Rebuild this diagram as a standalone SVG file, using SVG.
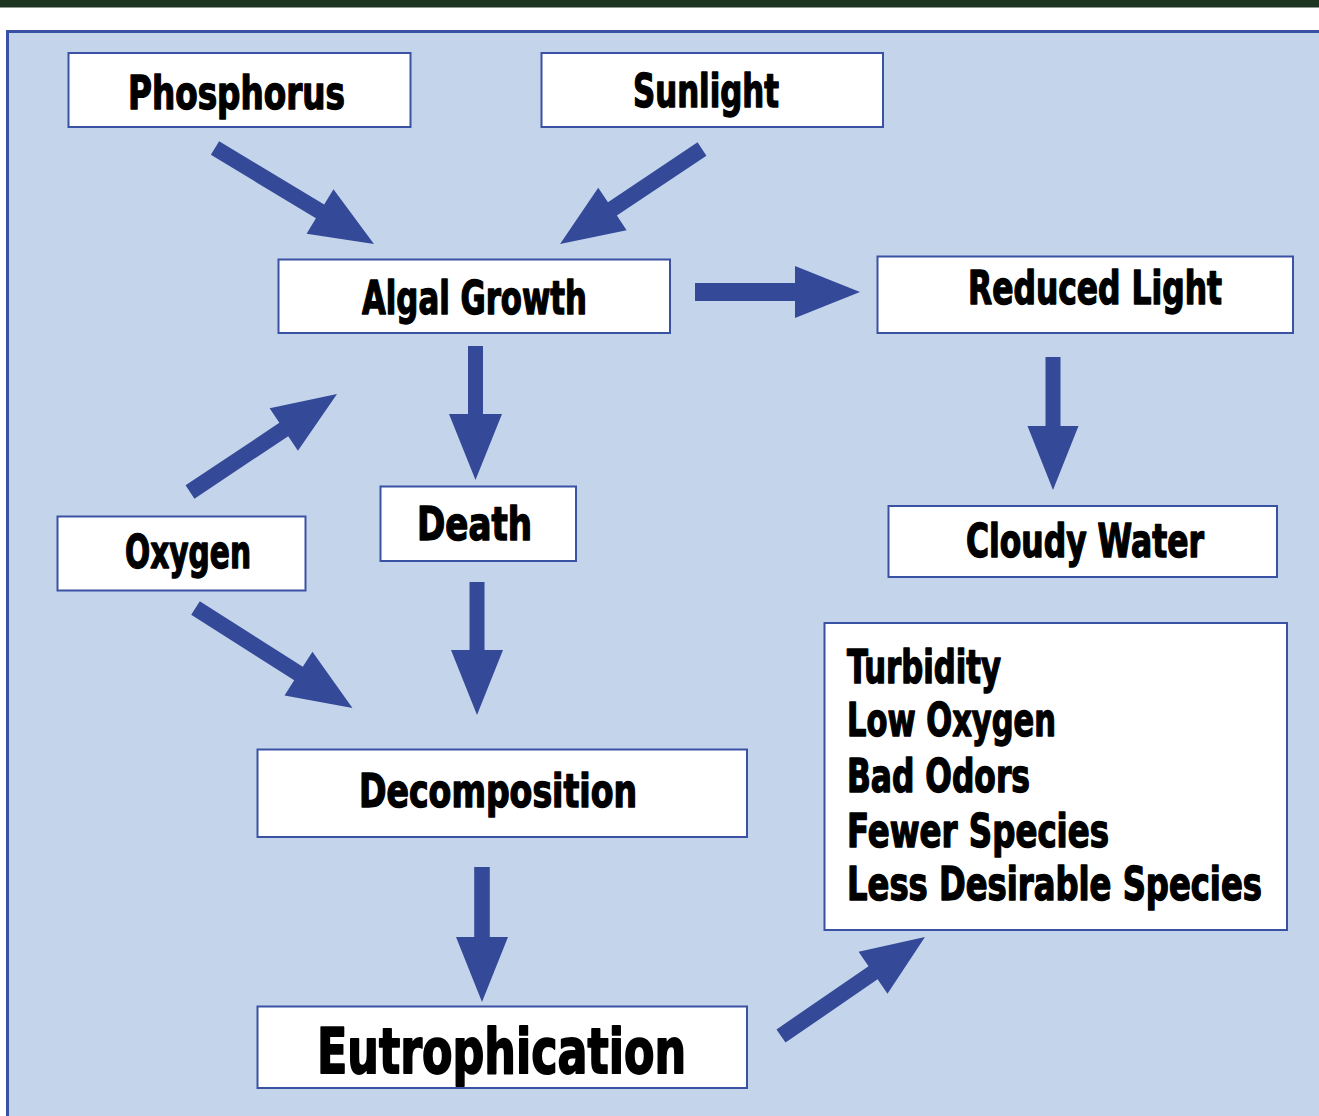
<svg xmlns="http://www.w3.org/2000/svg" width="1319" height="1116" viewBox="0 0 1319 1116">
  <style>
    .box { fill: #ffffff; stroke: #3a52a3; stroke-width: 2; }
    .lbl { font-family: "Liberation Sans Narrow", "DejaVu Sans Condensed", "Liberation Sans", sans-serif; font-weight: bold; font-size: 46px; fill: #000000; stroke: #000000; stroke-width: 1.4; stroke-linejoin: round; }
    .big { font-size: 63px; stroke-width: 1.8; }
    .arr { fill: #344a99; }
  </style>

  <!-- header strip and background panel -->
  <rect x="0" y="0" width="1319" height="7.5" fill="#1d3420"/>
  <rect x="7.5" y="31.5" width="1340" height="1110" fill="#c4d5eb" stroke="#3a52a3" stroke-width="3"/>

  <!-- connectors: block arrows drawn along local +x, then rotated into place -->
  <g id="connectors">
    <polygon class="arr" transform="translate(215,148) rotate(31.12)" points="0,-8 122.7,-8 122.7,-26 185.7,0 122.7,26 122.7,8 0,8"/>
    <polygon class="arr" transform="translate(702,149) rotate(146.2)" points="0,-8 107.8,-8 107.8,-25.5 170.8,0 107.8,25.5 107.8,8 0,8"/>
    <polygon class="arr" transform="translate(695,292)" points="0,-9 100,-9 100,-26 165,0 100,26 100,9 0,9"/>
    <polygon class="arr" transform="translate(475.5,346) rotate(90)" points="0,-7.5 68,-7.5 68,-26.5 134,0 68,26.5 68,7.5 0,7.5"/>
    <polygon class="arr" transform="translate(1053,357) rotate(90)" points="0,-7.5 69,-7.5 69,-25.5 133,0 69,25.5 69,7.5 0,7.5"/>
    <polygon class="arr" transform="translate(190,492) rotate(-33.69)" points="0,-8 112.7,-8 112.7,-25.5 176.7,0 112.7,25.5 112.7,8 0,8"/>
    <polygon class="arr" transform="translate(195.5,608) rotate(32.49)" points="0,-8 122.1,-8 122.1,-26 186.1,0 122.1,26 122.1,8 0,8"/>
    <polygon class="arr" transform="translate(477,582) rotate(90)" points="0,-7.5 68,-7.5 68,-26 133,0 68,26 68,7.5 0,7.5"/>
    <polygon class="arr" transform="translate(482,867) rotate(90)" points="0,-7.8 70,-7.8 70,-26 135,0 70,26 70,7.8 0,7.8"/>
    <polygon class="arr" transform="translate(781,1036) rotate(-34.5)" points="0,-8 111.7,-8 111.7,-25.5 174.7,0 111.7,25.5 111.7,8 0,8"/>
  </g>

  <!-- nodes -->
  <g id="phosphorus">
    <rect class="box" x="68.5" y="53" width="342" height="74"/>
    <text class="lbl" x="128" y="109" textLength="217" lengthAdjust="spacingAndGlyphs">Phosphorus</text>
  </g>
  <g id="sunlight">
    <rect class="box" x="541.5" y="53" width="341.5" height="74"/>
    <text class="lbl" x="633" y="107" textLength="146" lengthAdjust="spacingAndGlyphs">Sunlight</text>
  </g>
  <g id="algal-growth">
    <rect class="box" x="278.5" y="259.5" width="391.5" height="73.5"/>
    <text class="lbl" x="362" y="314" textLength="225" lengthAdjust="spacingAndGlyphs">Algal Growth</text>
  </g>
  <g id="reduced-light">
    <rect class="box" x="877.5" y="256.5" width="415.5" height="76.5"/>
    <text class="lbl" x="968" y="304" textLength="254" lengthAdjust="spacingAndGlyphs">Reduced Light</text>
  </g>
  <g id="death">
    <rect class="box" x="380.5" y="486.5" width="195.5" height="74.5"/>
    <text class="lbl" x="417" y="540" textLength="115" lengthAdjust="spacingAndGlyphs">Death</text>
  </g>
  <g id="oxygen">
    <rect class="box" x="57.5" y="516.5" width="248" height="74"/>
    <text class="lbl" x="125" y="568" textLength="126" lengthAdjust="spacingAndGlyphs">Oxygen</text>
  </g>
  <g id="cloudy-water">
    <rect class="box" x="888.5" y="506" width="388.5" height="71"/>
    <text class="lbl" x="966" y="557" textLength="238" lengthAdjust="spacingAndGlyphs">Cloudy Water</text>
  </g>
  <g id="effects">
    <rect class="box" x="824.5" y="623" width="462.5" height="307"/>
    <text class="lbl" x="847" y="683" textLength="154" lengthAdjust="spacingAndGlyphs">Turbidity</text>
    <text class="lbl" x="847" y="736" textLength="209" lengthAdjust="spacingAndGlyphs">Low Oxygen</text>
    <text class="lbl" x="847" y="792" textLength="183" lengthAdjust="spacingAndGlyphs">Bad Odors</text>
    <text class="lbl" x="847" y="847" textLength="262" lengthAdjust="spacingAndGlyphs">Fewer Species</text>
    <!-- longest line: narrowed with a horizontal scale so it stays inside the box -->
    <text class="lbl" transform="translate(847,900) scale(0.78,1)" x="0" y="0" textLength="532" lengthAdjust="spacingAndGlyphs">Less Desirable Species</text>
  </g>
  <g id="decomposition">
    <rect class="box" x="257.5" y="749.5" width="489.5" height="87.5"/>
    <text class="lbl" x="359" y="807" textLength="278" lengthAdjust="spacingAndGlyphs">Decomposition</text>
  </g>
  <g id="eutrophication">
    <rect class="box" x="257.5" y="1006.5" width="489.5" height="81.5"/>
    <text class="lbl big" x="317" y="1073" textLength="369" lengthAdjust="spacingAndGlyphs">Eutrophication</text>
  </g>
</svg>
